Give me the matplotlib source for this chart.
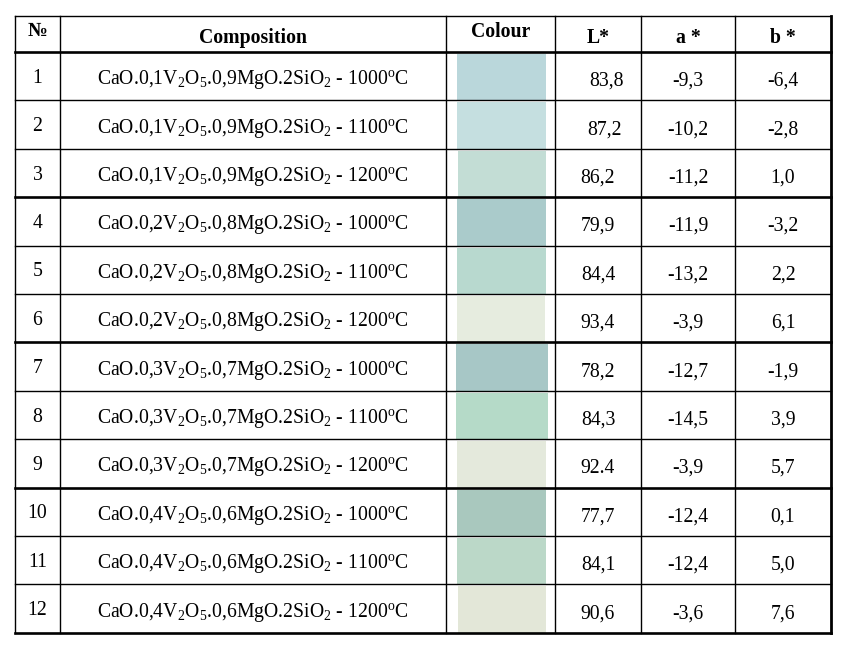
import matplotlib
matplotlib.use("Agg")
import matplotlib.pyplot as plt
from matplotlib.patches import Rectangle

plt.rcParams["font.family"] = ["Liberation Serif", "DejaVu Serif"]
plt.rcParams["mathtext.fontset"] = "custom"
plt.rcParams["mathtext.rm"] = "Liberation Serif"
plt.rcParams["mathtext.it"] = "Liberation Serif:italic"
plt.rcParams["mathtext.bf"] = "Liberation Serif:bold"

# ------------------------------------------------------------------ data

headers = ["№", "Composition", "Colour", "L*", "a *", "b *"]
numbers = [str(i) for i in range(1, 13)]
v2o5 = ["0,1", "0,1", "0,1", "0,2", "0,2", "0,2",
        "0,3", "0,3", "0,3", "0,4", "0,4", "0,4"]
mgo = ["0,9", "0,9", "0,9", "0,8", "0,8", "0,8",
       "0,7", "0,7", "0,7", "0,6", "0,6", "0,6"]
temps = ["1000", "1100", "1200"] * 4
L_vals = ["83,8", "87,2", "86,2", "79,9", "84,4", "93,4",
          "78,2", "84,3", "92.4", "77,7", "84,1", "90,6"]
a_vals = ["-9,3", "-10,2", "-11,2", "-11,9", "-13,2", "-3,9",
          "-12,7", "-14,5", "-3,9", "-12,4", "-12,4", "-3,6"]
b_vals = ["-6,4", "-2,8", "1,0", "-3,2", "2,2", "6,1",
          "-1,9", "3,9", "5,7", "0,1", "5,0", "7,6"]
swatches = ["#BAD7DB", "#C5DFE0", "#C3DDD5", "#AACBCB", "#B8D9CF", "#E6ECDF",
            "#A7C7C6", "#B5DAC8", "#E4E9DC", "#A9C8BE", "#BBD8C8", "#E3E7D8"]

# ------------------------------------------------------------------ layout (pixels)

W, H = 845, 658
col_edges = [15, 60, 446, 555, 641, 735, 831]
top, head_bot, row_h = 16, 52, 48.4
n_rows = len(numbers)
bottom = head_bot + n_rows * row_h
L_shift = [9, 7, 0, 0, 0, 0, 0, 0, 0, 0, 0, 0]   # the first two L* values sit off centre
sw_x = [457, 457, 458, 457, 457, 457, 456, 456, 457, 457, 457, 458]
sw_w = [89, 89, 88, 89, 89, 88, 92, 92, 89, 89, 89, 88]

fig = plt.figure(figsize=(W / 100, H / 100), dpi=100)
ax = fig.add_axes([0, 0, 1, 1])
ax.set_xlim(0, W)
ax.set_ylim(H, 0)
ax.axis("off")

fs = 14.2
cx = [(col_edges[i] + col_edges[i + 1]) / 2 for i in range(6)]

# swatches first, grid lines go over them
for i, c in enumerate(swatches):
    y0 = head_bot + i * row_h
    ax.add_patch(Rectangle((sw_x[i], y0 + 2), sw_w[i], row_h - 2,
                           facecolor=c, edgecolor="none", zorder=1))

# header
head_y = [31, 38, 32, 38, 38, 38]
for j, h in enumerate(headers):
    ax.text(cx[j], head_y[j], h, ha="center", va="center", fontsize=fs,
            fontweight="bold", zorder=3)

# body
for i in range(n_rows):
    yc = head_bot + (i + 0.5) * row_h
    comp = (rf"CaO.{v2o5[i]}V$_2$O$_5$.{mgo[i]}MgO.2SiO$_2$ - "
            rf"{temps[i]}$^{{\mathrm{{o}}}}$C")
    ax.text(cx[0], yc + 2, numbers[i], ha="center", va="center", fontsize=fs, zorder=3)
    ax.text(cx[1], yc + 3.5, comp, ha="center", va="center", fontsize=fs, zorder=3)
    ax.text(cx[3] + L_shift[i], yc + 5, L_vals[i], ha="center", va="center",
            fontsize=fs, zorder=3)
    ax.text(cx[4], yc + 5, a_vals[i], ha="center", va="center", fontsize=fs, zorder=3)
    ax.text(cx[5], yc + 5, b_vals[i], ha="center", va="center", fontsize=fs, zorder=3)

# horizontal lines: thick after header and every third row
ax.plot([col_edges[0], col_edges[-1]], [top, top], color="black", lw=1.0, zorder=4)
for k in range(n_rows + 1):
    y = head_bot + k * row_h
    thick = (k % 3 == 0)
    ax.plot([col_edges[0], col_edges[-1]], [y, y], color="black",
            lw=1.9 if thick else 1.0, zorder=4, solid_capstyle="projecting")

# vertical lines
for j, x in enumerate(col_edges):
    lw = 2.0 if j == len(col_edges) - 1 else 1.0
    ax.plot([x, x], [top, bottom], color="black", lw=lw, zorder=4,
            solid_capstyle="projecting")

fig.savefig("out.png", dpi=100)
